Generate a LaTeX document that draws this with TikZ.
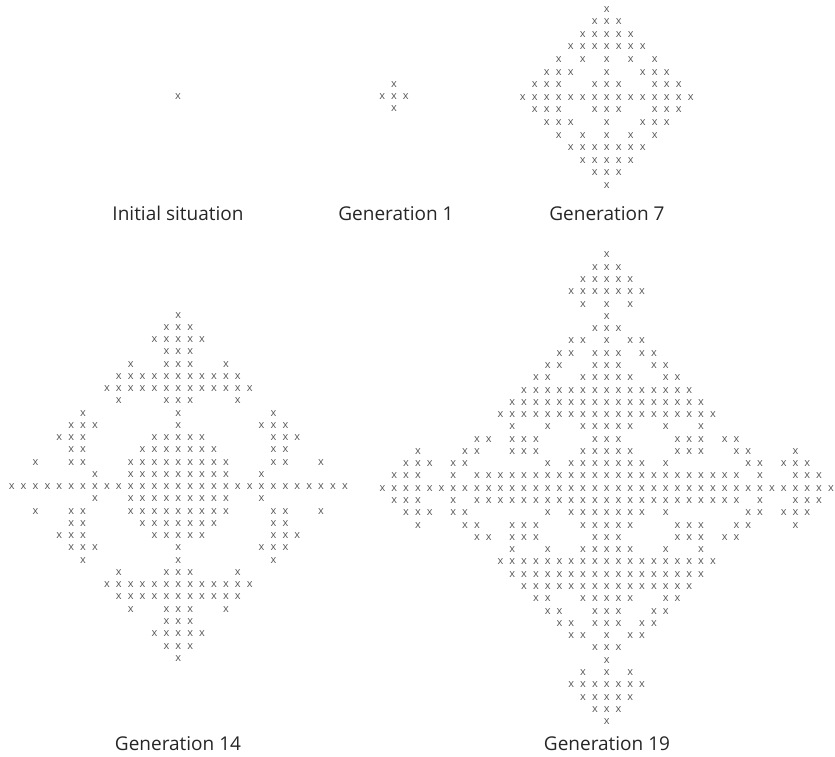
\documentclass[tikz,border=0pt]{standalone}
\usepackage{fontspec}
\setmainfont{Open Sans}

% one generation, mirrored into all four quadrants
% #1 name, #2/#3 centre, #4/#5 cell spacing, #6 rows as y/{x,...}
\newcommand{\drawgen}[6]{%
  \foreach \r/\cols in {#6} {
    \foreach \c in \cols {
      \foreach \sx in {1,-1} {
        \foreach \sy in {1,-1} {
          \pgfmathtruncatemacro\hidecell{or(and(\c==0,\sx<0),and(\r==0,\sy<0))}
          \ifnum\hidecell=0
            \node[cell] (#1-\r-\c-\sx-\sy) at ({#2+\sx*\c*#4},{#3-\sy*\r*#5}) {x};
          \fi
        }
      }
    }
  }%
}

\begin{document}
\begin{tikzpicture}[x=1pt, y=-1pt,
    cell/.style={inner sep=0pt, text=black!65, font=\fontsize{11}{11}\selectfont},
    caption/.style={anchor=base, text=black!85, font=\fontsize{19}{22}\selectfont}
  ]
    \useasboundingbox (0,0) rectangle (835,756);

    % start
    \node[cell] (g0) at (178,97) {x};
    \node[caption] (lab0) at (178,220) {Initial situation};

    % generation 1
    \drawgen{g1}{394}{96.7}{11.7}{12.2}{0/{0,1}, 1/{0}}
    \node[caption] (lab1) at (396,220) {Generation 1};

    % generation 7
    \drawgen{g7}{606.7}{97.3}{12}{12.6}{
      0/{0,...,7}, 1/{0,1,4,5,6}, 2/{0,3,4,5}, 3/{0,2,4},
      4/{0,...,3}, 5/{0,1,2}, 6/{0,1}, 7/{0}}
    \node[caption] (lab7) at (607,220) {Generation 7};

    % generation 14
    \drawgen{g14}{178.3}{486.7}{11.9}{12.26}{
      0/{0,...,14}, 1/{0,...,4,7,...,13}, 2/{0,...,4,8,9,12},
      3/{0,...,3,8,9}, 4/{0,1,2,8,9,10}, 5/{0,7,8,9}, 6/{0,8},
      7/{0,1,5}, 8/{0,...,6}, 9/{0,...,5}, 10/{0,1,4}, 11/{0,1},
      12/{0,1,2}, 13/{0,1}, 14/{0}}
    \node[caption] (lab14) at (178,750) {Generation 14};

    % generation 19
    \drawgen{g19}{606.7}{488.3}{11.8}{12.28}{
      0/{0,...,19}, 1/{0,...,11,13,16,17,18},
      2/{0,...,3,5,...,9,12,13,15,16,17}, 3/{0,1,2,6,7,8,11,12,16},
      4/{0,1,6,7,8,10,11}, 5/{0,1,2,5,...,10}, 6/{0,...,9},
      7/{0,...,8}, 8/{0,...,7}, 9/{0,1,2,5,6}, 10/{0,1,4,5},
      11/{0,1,3,4}, 12/{0,2,3}, 13/{0,1}, 14/{0}, 15/{0,2},
      16/{0,...,3}, 17/{0,1,2}, 18/{0,1}, 19/{0}}
    \node[caption] (lab19) at (607,750) {Generation 19};
\end{tikzpicture}
\end{document}
